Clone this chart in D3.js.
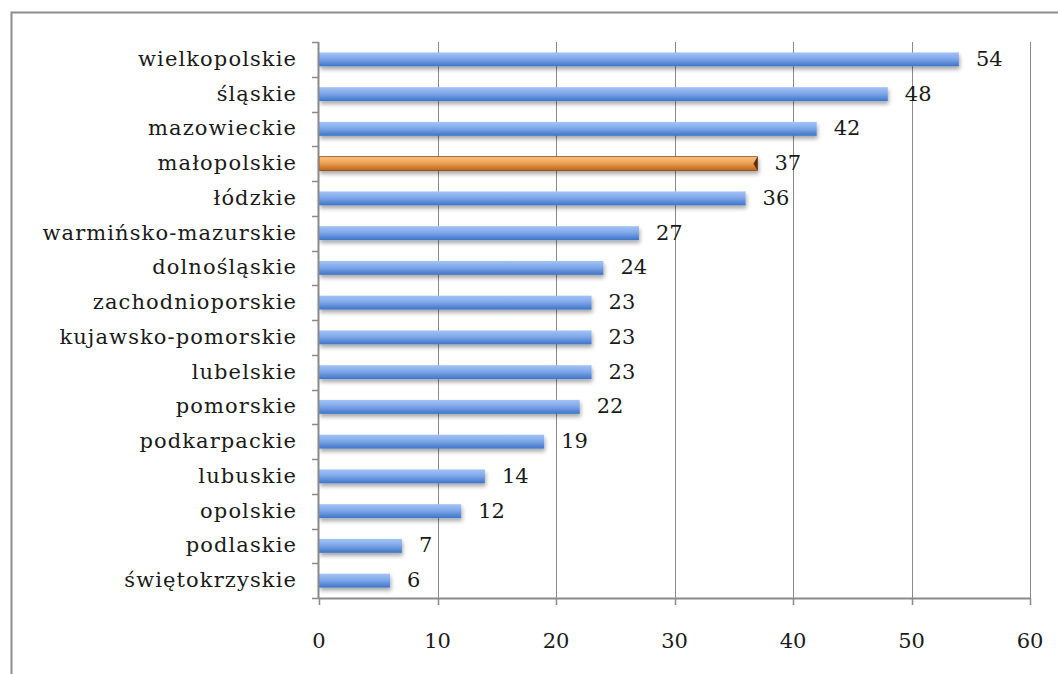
<!DOCTYPE html>
<html><head><meta charset="utf-8">
<script src="https://cdn.jsdelivr.net/npm/d3@7"></script>
<style>body{margin:0;background:#fff}svg{display:block}</style>
</head><body>
<svg id="c" width="1058" height="674"></svg>
<script>
const categories = ["wielkopolskie","śląskie","mazowieckie","małopolskie","łódzkie","warmińsko-mazurskie","dolnośląskie","zachodnioporskie","kujawsko-pomorskie","lubelskie","pomorskie","podkarpackie","lubuskie","opolskie","podlaskie","świętokrzyskie"];
const values = [54,48,42,37,36,27,24,23,23,23,22,19,14,12,7,6];
const highlighted = ["małopolskie"];
const xTicks = [0,10,20,30,40,50,60];

const svg = d3.select("#c");
const font = "'DejaVu Serif', serif";
const m = {l:319, r:1030, t:42, b:598};

svg.append("rect").attr("x",11.5).attr("y",12.5).attr("width",1058).attr("height",670)
  .attr("fill","#fff").attr("stroke","#8c8c8c").attr("stroke-width",2);

const defs = svg.append("defs");
const gb = defs.append("linearGradient").attr("id","gb").attr("x1",0).attr("x2",0).attr("y1",0).attr("y2",1);
gb.append("stop").attr("offset","0").attr("stop-color","#a4c3f5");
gb.append("stop").attr("offset","0.45").attr("stop-color","#7fa8ea");
gb.append("stop").attr("offset","1").attr("stop-color","#3f74c8");
const go = defs.append("linearGradient").attr("id","go").attr("x1",0).attr("x2",0).attr("y1",0).attr("y2",1);
go.append("stop").attr("offset","0").attr("stop-color","#f9c48a");
go.append("stop").attr("offset","0.45").attr("stop-color","#f0a050");
go.append("stop").attr("offset","1").attr("stop-color","#b8651e");
const f = defs.append("filter").attr("id","sh").attr("x","-5%").attr("y","-50%").attr("width","115%").attr("height","250%");
f.append("feGaussianBlur").attr("in","SourceAlpha").attr("stdDeviation",2.2);
f.append("feOffset").attr("dx",1).attr("dy",3).attr("result","b");
f.append("feComponentTransfer").append("feFuncA").attr("type","linear").attr("slope",0.35);
const fm = f.append("feMerge");
fm.append("feMergeNode");
fm.append("feMergeNode").attr("in","SourceGraphic");

const x = d3.scaleLinear().domain([0,60]).range([m.l,m.r]);
const y = d3.scaleBand().domain(categories).range([m.t,m.b]).paddingInner(0.6).paddingOuter(0.3);
const yb = d3.scaleBand().domain(categories).range([m.t,m.b]);

// gridlines
svg.append("g").selectAll("line").data(xTicks.filter(d=>d>0)).join("line")
  .attr("x1",d=>Math.round(x(d))+0.5).attr("x2",d=>Math.round(x(d))+0.5)
  .attr("y1",m.t).attr("y2",m.b).attr("stroke","#8a8a8a").attr("stroke-width",1);

// bars
svg.append("g").selectAll("rect").data(categories).join("rect")
  .attr("x",x(0)).attr("y",d=>y(d)).attr("width",(d,i)=>x(values[i])-x(0)).attr("height",y.bandwidth())
  .attr("fill",d=>highlighted.includes(d)?"url(#go)":"url(#gb)")
  .attr("stroke",d=>highlighted.includes(d)?"#8a4a14":"none").attr("stroke-width",0.8)
  .attr("filter","url(#sh)");
categories.forEach((c,i)=>{
  if(!highlighted.includes(c)) return;
  const xe=x(values[i]), yt=y(c), h=y.bandwidth();
  svg.append("path").attr("d",`M${xe-4},${yt+h/2} L${xe},${yt} L${xe},${yt+h} Z`).attr("fill","#5a2e08");
});

// y axis
const ya = svg.append("g");
ya.append("line").attr("x1",m.l-0.5).attr("x2",m.l-0.5).attr("y1",m.t).attr("y2",m.b).attr("stroke","#8a8a8a").attr("stroke-width",2);
ya.selectAll("line.t").data(d3.range(categories.length+1)).join("line").attr("class","t")
  .attr("x1",m.l-7).attr("x2",m.l).attr("y1",i=>Math.round(m.t+i*yb.step())+0.5).attr("y2",i=>Math.round(m.t+i*yb.step())+0.5)
  .attr("stroke","#8a8a8a").attr("stroke-width",1.5);
ya.selectAll("text").data(categories).join("text")
  .attr("x",m.l-22).attr("y",d=>yb(d)+yb.bandwidth()/2+1).attr("text-anchor","end").attr("dominant-baseline","middle")
  .attr("font-family",font).attr("font-size",21).attr("letter-spacing",1.1).attr("fill","#1a1a1a").text(d=>d);

// x axis
const xa = svg.append("g");
xa.append("line").attr("x1",m.l).attr("x2",m.r).attr("y1",m.b+0.5).attr("y2",m.b+0.5).attr("stroke","#8a8a8a").attr("stroke-width",2);
xa.selectAll("line.t").data(xTicks).join("line").attr("class","t")
  .attr("x1",d=>Math.round(x(d))+0.5).attr("x2",d=>Math.round(x(d))+0.5).attr("y1",m.b).attr("y2",m.b+7)
  .attr("stroke","#8a8a8a").attr("stroke-width",1.5);
xa.selectAll("text").data(xTicks).join("text")
  .attr("x",d=>x(d)).attr("y",642).attr("text-anchor","middle").attr("dominant-baseline","middle")
  .attr("font-family",font).attr("font-size",21).attr("fill","#1a1a1a").text(d=>d);

// value labels
svg.append("g").selectAll("text").data(categories).join("text")
  .attr("x",(d,i)=>x(values[i])+17).attr("y",d=>yb(d)+yb.bandwidth()/2+1).attr("dominant-baseline","middle")
  .attr("font-family",font).attr("font-size",21).attr("fill","#1a1a1a").text((d,i)=>values[i]);
</script>
</body></html>
